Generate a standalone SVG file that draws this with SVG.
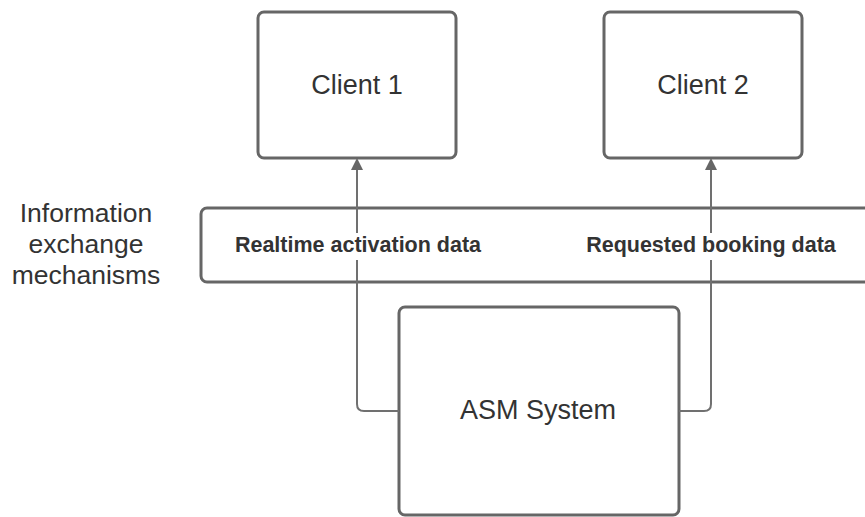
<svg xmlns="http://www.w3.org/2000/svg" width="865" height="517" viewBox="0 0 865 517">
<defs>
<marker id="arr" viewBox="0 0 12 12" refX="10" refY="6" markerWidth="12" markerHeight="12" markerUnits="userSpaceOnUse" orient="auto">
<path d="M0,0 L12,6 L0,12 Z" fill="#666"/>
</marker>
<style>
.box{fill:#fff;stroke:#666;stroke-width:3}
.band{fill:#fff;stroke:#666;stroke-width:3}
.conn{fill:none;stroke:#707070;stroke-width:2}
.t{font-family:"Liberation Sans",Arial,sans-serif;fill:#333;text-anchor:middle}
.nl{font-size:27px}
.el{font-size:21.5px;font-weight:bold}
.side{font-size:26.5px}
.lbg{fill:#fff}
</style>
</defs>
<rect width="865" height="517" fill="#fff"/>
<g id="band">
<rect class="band" x="201" y="208" width="700" height="74" rx="6"/>
</g>
<g id="label">
<text class="t side" x="86" y="222">Information</text>
<text class="t side" x="86" y="253">exchange</text>
<text class="t side" x="86" y="284">mechanisms</text>
</g>
<g id="client1">
<rect class="box" x="258" y="12" width="198" height="146" rx="6"/>
<text class="t nl" x="357" y="94">Client 1</text>
</g>
<g id="client2">
<rect class="box" x="604" y="12" width="198" height="146" rx="6"/>
<text class="t nl" x="703" y="94">Client 2</text>
</g>
<g id="asm">
<rect class="box" x="399" y="307" width="280" height="208" rx="6"/>
<text class="t nl" x="538" y="419">ASM System</text>
</g>
<g id="connectors">
<path class="conn" d="M399,411 L364,411 Q357,411 357,404 L357,160" marker-end="url(#arr)"/>
<path class="conn" d="M679,411 L704,411 Q711,411 711,404 L711,160" marker-end="url(#arr)"/>
<rect class="lbg" x="228" y="233" width="260" height="27"/>
<text class="t el" x="358" y="252">Realtime activation data</text>
<rect class="lbg" x="580" y="233" width="263" height="27"/>
<text class="t el" x="711" y="252">Requested booking data</text>
</g>
</svg>
